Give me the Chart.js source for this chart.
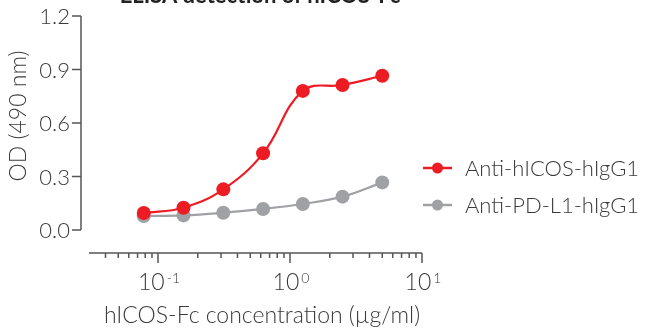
<!DOCTYPE html>
<html>
<head>
<meta charset="utf-8">
<script src="https://cdn.jsdelivr.net/npm/chart.js@4/dist/chart.umd.min.js"></script>
<style>
  html, body { margin: 0; padding: 0; background: #fff; }
  #wrap { width: 647px; height: 329px; position: relative; }
  canvas { display: block; }
</style>
</head>
<body>
<div id="wrap"><canvas id="elisaChart" width="647" height="329"></canvas></div>
<script>
// --- datos ---
const CONCENTRACIONES = [0.078, 0.156, 0.3125, 0.625, 1.25, 2.5, 5];
const ANTI_HICOS = [0.095, 0.125, 0.228, 0.43, 0.78, 0.813, 0.865];
const ANTI_PDL1 = [0.078, 0.082, 0.097, 0.118, 0.146, 0.187, 0.267];
const Y_TICKS = [0.0, 0.3, 0.6, 0.9, 1.2];
const X_DECADAS = [-1, 0, 1];
const SERIES_LABELS = ['Anti-hICOS-hIgG1', 'Anti-PD-L1-hIgG1'];

const ROJO = '#ED1C24';
const GRIS = '#A0A1A5';
const EJE = '#555555';
const TEXTO = '#3a3a3a';
const FUENTE = 'Lato, "Open Sans", sans-serif';
const LIGERA = '300 ';

const toPoints = vals => CONCENTRACIONES.map((c, i) => ({ x: c, y: vals[i] }));

// ejes, etiquetas, título y leyenda dibujados a mano
const ejesPlugin = {
    id: 'ejes',
    afterDraw(chart) {
        const ctx = chart.ctx;
        const xs = chart.scales.x, ys = chart.scales.y;
        const yAxisX = 81, xAxisY = 253;
        ctx.save();
        ctx.strokeStyle = EJE;
        ctx.lineWidth = 1.5;

        // eje Y
        ctx.beginPath();
        ctx.moveTo(yAxisX, ys.getPixelForValue(1.2));
        ctx.lineTo(yAxisX, ys.getPixelForValue(0));
        ctx.stroke();
        ctx.fillStyle = TEXTO;
        ctx.font = LIGERA + '22px ' + FUENTE;
        ctx.textAlign = 'right';
        ctx.textBaseline = 'middle';
        Y_TICKS.forEach(v => {
            const py = ys.getPixelForValue(v);
            ctx.beginPath();
            ctx.moveTo(yAxisX - 9, py);
            ctx.lineTo(yAxisX, py);
            ctx.stroke();
            ctx.fillText(v.toFixed(1), yAxisX - 11, py + 1);
        });

        // eje X
        ctx.beginPath();
        ctx.moveTo(xs.getPixelForValue(xs.min), xAxisY);
        ctx.lineTo(xs.getPixelForValue(xs.max), xAxisY);
        ctx.stroke();
        for (let d = -2; d <= 1; d++) {
            for (let m = 1; m <= 9; m++) {
                const v = m * Math.pow(10, d);
                if (v < xs.min * 1.001 || v > xs.max * 1.001) continue;
                const px = xs.getPixelForValue(v);
                const len = m === 1 ? 10 : 5;
                ctx.beginPath();
                ctx.moveTo(px, xAxisY);
                ctx.lineTo(px, xAxisY + len);
                ctx.stroke();
            }
        }
        X_DECADAS.forEach(d => {
            const px = xs.getPixelForValue(Math.pow(10, d));
            ctx.font = LIGERA + '23px ' + FUENTE;
            const wBase = ctx.measureText('10').width;
            ctx.font = LIGERA + '14px ' + FUENTE;
            const exp = d < 0 ? '-' + Math.abs(d) : String(d);
            const wExp = ctx.measureText(exp).width;
            const x0 = px - (wBase + wExp) / 2;
            ctx.textAlign = 'left';
            ctx.textBaseline = 'alphabetic';
            ctx.font = LIGERA + '23px ' + FUENTE;
            ctx.fillText('10', x0, 290);
            ctx.font = LIGERA + '14px ' + FUENTE;
            ctx.fillText(exp, x0 + wBase + 2, 283);
        });

        // títulos de ejes
        ctx.font = LIGERA + '23px ' + FUENTE;
        ctx.textAlign = 'center';
        ctx.textBaseline = 'middle';
        ctx.fillText('hICOS-Fc concentration (\u00B5g/ml)', 262, 316);
        ctx.save();
        ctx.translate(19, 116);
        ctx.rotate(-Math.PI / 2);
        ctx.fillText('OD (490 nm)', 0, 0);
        ctx.restore();

        // título (recortado arriba)
        ctx.font = 'bold 22px ' + FUENTE;
        ctx.fillStyle = '#222';
        ctx.textBaseline = 'alphabetic';
        ctx.fillText('ELISA detection of hICOS-Fc', 260, 3);

        // leyenda
        [[ROJO, 168], [GRIS, 205]].forEach(([col, ly], i) => {
            ctx.strokeStyle = col;
            ctx.lineWidth = 2.5;
            ctx.beginPath();
            ctx.moveTo(423, ly);
            ctx.lineTo(452, ly);
            ctx.stroke();
            ctx.fillStyle = col;
            ctx.beginPath();
            ctx.arc(437.5, ly, 5.5, 0, Math.PI * 2);
            ctx.fill();
            ctx.fillStyle = TEXTO;
            ctx.font = LIGERA + '22px ' + FUENTE;
            ctx.textAlign = 'left';
            ctx.textBaseline = 'middle';
            ctx.fillText(SERIES_LABELS[i], 465, ly + 1);
        });
        ctx.restore();
    }
};

const ctxElisa = document.getElementById('elisaChart').getContext('2d');
new Chart(ctxElisa, {
    type: 'line',
    data: {
        datasets: [{
            label: SERIES_LABELS[0],
            data: toPoints(ANTI_HICOS),
            borderColor: ROJO,
            backgroundColor: ROJO,
            borderWidth: 2.2,
            pointRadius: 7,
            pointHoverRadius: 7,
            pointBorderWidth: 0,
            tension: 0.4,
            clip: false
        }, {
            label: SERIES_LABELS[1],
            data: toPoints(ANTI_PDL1),
            borderColor: GRIS,
            backgroundColor: GRIS,
            borderWidth: 2.2,
            pointRadius: 7,
            pointHoverRadius: 7,
            pointBorderWidth: 0,
            tension: 0.4,
            clip: false
        }]
    },
    options: {
        responsive: false,
        animation: false,
        devicePixelRatio: 1,
        layout: { padding: { left: 89, right: 225, top: 16, bottom: 99 } },
        plugins: { legend: { display: false }, title: { display: false }, tooltip: { enabled: false } },
        scales: {
            x: { type: 'logarithmic', min: 0.03, max: 10, display: false },
            y: { min: 0, max: 1.2, display: false }
        }
    },
    plugins: [ejesPlugin]
});
</script>
</body>
</html>
